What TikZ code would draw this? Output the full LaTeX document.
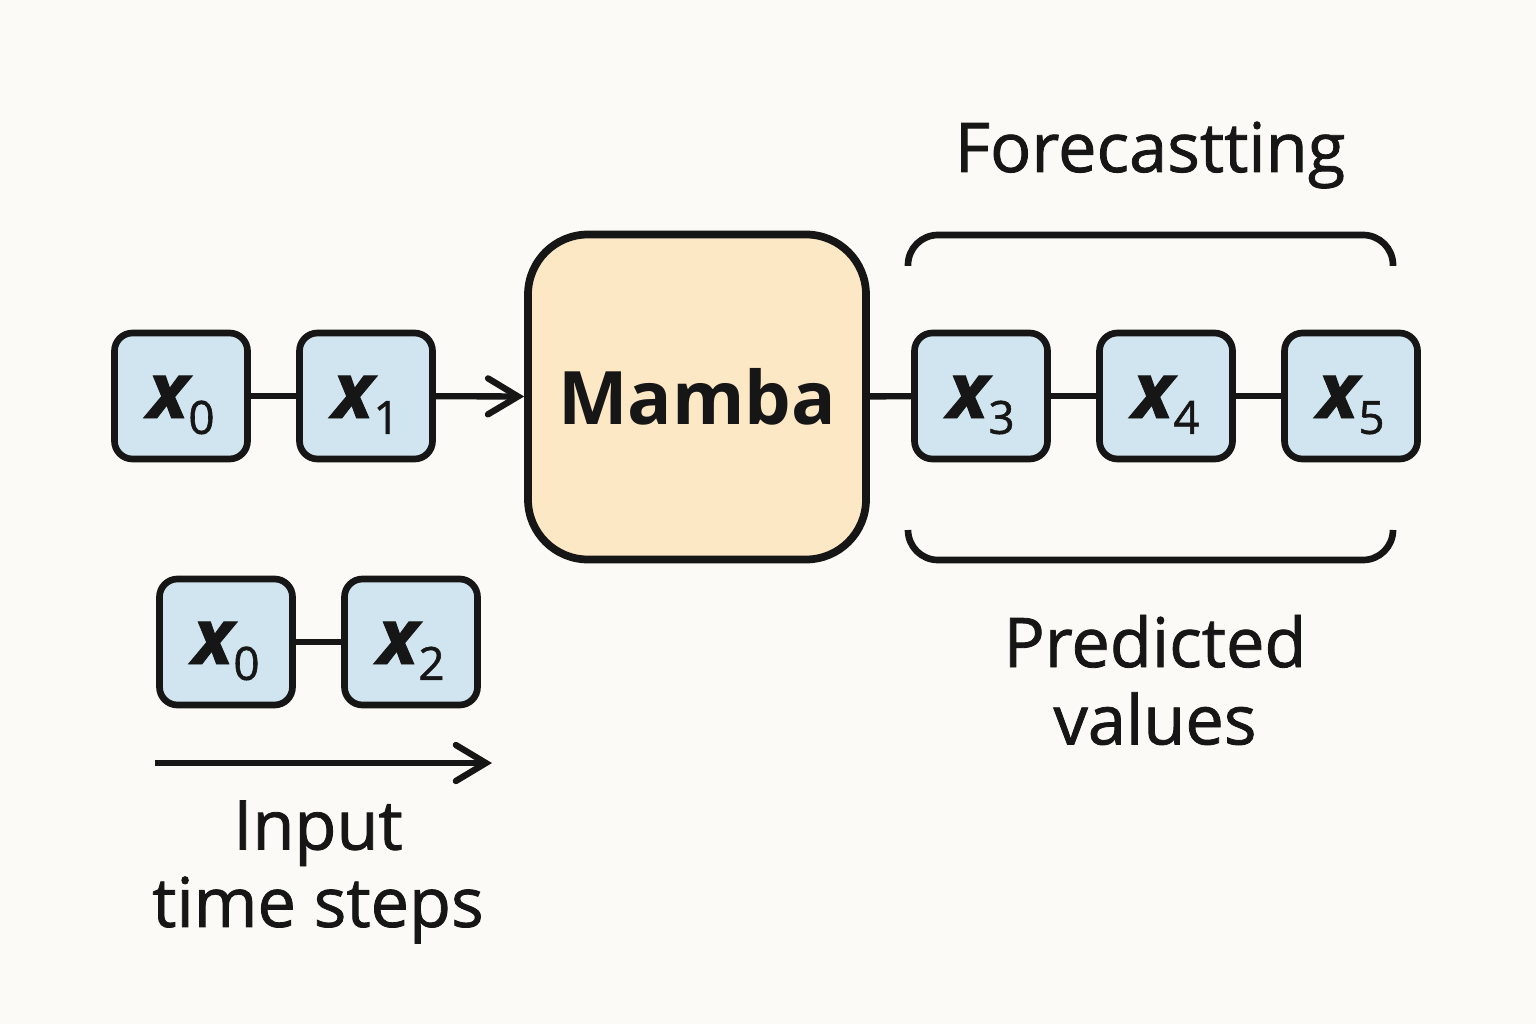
\documentclass[tikz,border=0pt]{standalone}
\usepackage{fontspec}
\setmainfont{Open Sans}
\newfontfamily\mediumfont[FakeBold=1.2]{Open Sans}
\usetikzlibrary{arrows.meta}
\definecolor{paper}{RGB}{251,250,246}
\definecolor{cellblue}{RGB}{208,229,239}
\definecolor{mambaorange}{RGB}{253,232,197}
\definecolor{ink}{RGB}{22,22,22}
\newcommand{\xsub}[1]{{\fontsize{22}{26}\selectfont\bfseries\itshape x}\raisebox{-4.5pt}{\fontsize{13}{15}\selectfont #1}}

\begin{document}
\begin{tikzpicture}[node distance=1.85cm, >={Straight Barb[length=3mm,width=3.6mm,line cap=round]},
  cell/.style={rectangle, rounded corners=0.18cm, draw=ink, line width=1.9pt, fill=cellblue, minimum width=1.33cm, minimum height=1.26cm, text height=0.5cm, text depth=0.06cm, inner sep=0pt},
  main node/.style={rectangle, rounded corners=0.6cm, draw=ink, line width=2.2pt, fill=mambaorange, minimum width=3.38cm, minimum height=3.25cm, font=\fontsize{21}{25}\selectfont\bfseries}]
  \tikzstyle{every node}=[font=\mediumfont\fontsize{19.5}{22}\selectfont, text=ink]

  \fill[paper] (0,0) rectangle (15.36,10.24);

  \node[cell] (1) at (1.81,6.28) {\xsub{0}};
  \node[cell] (2) [right of=1] {\xsub{1}};
  \node[main node] (3) at (6.97,6.27) {Mamba};
  \node[cell] (4) at (9.81,6.28) {\xsub{3}};
  \node[cell] (5) [right of=4] {\xsub{4}};
  \node[cell] (6) [right of=5] {\xsub{5}};
  \node[cell] (7) at (2.26,3.82) {\xsub{0}};
  \node[cell] (8) [right of=7] {\xsub{2}};

  \node (9) at (11.5,8.52) [anchor=base] {Forecastting};
  \node (10) at (11.55,3.44) [align=center] {Predicted\\values};
  \node (11) at (3.18,1.52) [align=center] {Input\\time steps};

  \coordinate (a) at (1.55,2.61);
  \coordinate (b) at (4.92,2.61);

  \path[ink, line width=1.8pt]
    (1) edge (2)
    (2) edge[->] (3)
    (3) edge (4)
    (4) edge (5)
    (5) edge (6)
    (7) edge (8)
    (a) edge[->] (b);

  % brackets
  \draw[ink, line width=1.9pt, rounded corners=0.3cm] (9.08,7.58) |- (13.93,7.89) -- (13.93,7.58);
  \draw[ink, line width=1.9pt, rounded corners=0.3cm] (9.08,4.94) |- (13.93,4.64) -- (13.93,4.94);
\end{tikzpicture}
\end{document}
